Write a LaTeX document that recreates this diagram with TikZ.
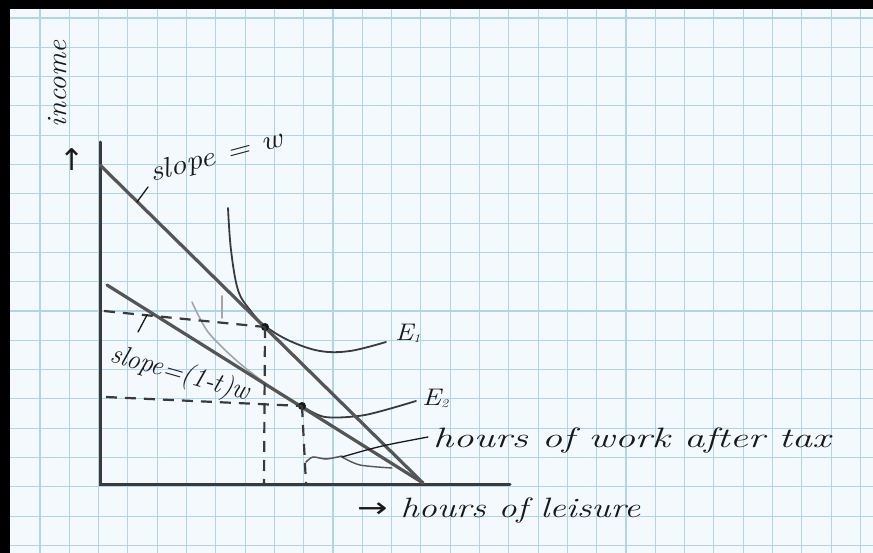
\documentclass[tikz,border=0pt]{standalone}
\usepackage{fontspec}
\usepackage{graphicx}
\newfontfamily\dvsarrows{DejaVu Sans}
\definecolor{paper}{RGB}{243,249,252}
\definecolor{gridc}{RGB}{176,213,233}
\definecolor{pencil}{RGB}{58,58,58}
\definecolor{pencilmid}{RGB}{85,85,85}
\definecolor{pencillight}{RGB}{165,165,165}
\definecolor{ink}{RGB}{25,25,25}
\newcommand\handw[2]{\resizebox{#1}{\height}{#2}}
\begin{document}
\begin{tikzpicture}[x=1pt,y=-1pt,
  gridline/.style={gridc, line width=1.1pt},
  axisline/.style={pencil, line width=3pt, line cap=round},
  budget/.style={pencilmid, line width=3.2pt, line cap=round},
  guide/.style={pencil, line width=2.2pt, dash pattern=on 11pt off 8pt},
  icurve/.style={pencil, line width=1.8pt, line cap=round},
  faintcurve/.style={pencillight, line width=1.6pt, line cap=round},
  leader/.style={ink, line width=1.3pt, line cap=round},
  lab/.style={ink, inner sep=0pt, font=\fontsize{28}{30}\selectfont\itshape},
  elab/.style={ink, inner sep=0pt, font=\fontsize{24}{26}\selectfont\itshape},
  dot/.style={circle, fill=ink, inner sep=0pt, minimum size=8pt}
]
\useasboundingbox (0,0) rectangle (873,553);
% paper
\fill[paper] (0,0) rectangle (873,553);
\foreach \i in {0,...,29} \draw[gridline] ({40+29.3*\i},0) -- ({40+29.3*\i},553);
\foreach \j in {0,...,18} \draw[gridline] (0,{18+29.3*\j}) -- (873,{18+29.3*\j});
\fill[black] (0,0) rectangle (873,9);
\fill[black] (0,0) rectangle (10,553);

% key points
\coordinate (O) at (100,484);
\coordinate (ytop) at (100,142);
\coordinate (xend) at (510,484);
\coordinate (A) at (100,165);
\coordinate (B) at (107,285);
\coordinate (C) at (423,483);
\coordinate (h1) at (104,311);
\coordinate (v1) at (264,484);
\coordinate (h2) at (106,397);
\coordinate (v2) at (306,484);
\coordinate (tw1) at (137,202);
\coordinate (tw2) at (148,187);
\coordinate (tt1) at (138,332);
\coordinate (tt2) at (147,315);
\coordinate (fm1) at (222,296);
\coordinate (fm2) at (222,318);
\coordinate (wk) at (342,457);
\coordinate (wl) at (428,437);

% faint erased mark
\draw[faintcurve] (fm1) -- (fm2);

% indifference curves
\draw[faintcurve] plot[smooth] coordinates {(192,302) (208,332) (237,361) (268,385) (302,406)};
\draw[icurve] plot[smooth, tension=0.6] coordinates {(228,208) (231,250) (238,290) (250,310) (265,326) (290,341) (320,351) (350,351) (386,342)};
\draw[icurve] plot[smooth] coordinates {(302,406) (325,417) (365,415) (416,401)};

% axes and budget lines
\draw[axisline] (ytop) -- (O) -- (xend);
\draw[budget] (A) -- (C);
\draw[budget] (B) -- (C);

% equilibrium points
\node[dot] (e1) at (265,327) {};
\node[dot] (e2) at (302,406) {};

% dashed guides
\draw[guide] (h1) -- (e1.center);
\draw[guide] (e1.center) -- (v1);
\draw[guide] (h2) -- (e2.center);
\draw[guide] (e2.center) -- (v2);

% hours of work scribble
\draw[icurve, pencilmid, line width=1.5pt] plot[smooth] coordinates {(306,462) (313,457) (326,459) (342,456)};
\draw[faintcurve, pencilmid, line width=1.4pt] plot[smooth] coordinates {(342,457) (360,465) (392,468)};
\draw[leader] (wk) .. controls (380,446) .. (wl);

% slope leaders
\draw[leader] (tw1) -- (tw2);
\draw[leader] (tt1) -- (tt2);

% labels
\node[lab, rotate=90, anchor=base] (income) at (66,84) {\handw{87pt}{income}};
\node[ink, inner sep=0pt, font=\fontsize{30}{32}\selectfont\dvsarrows] (uparr) at (72,160) {↑};
\node[lab, rotate=15, anchor=base] (slopew) at (218,164) {\handw{136pt}{slope = w}};
\node[lab, rotate=-16, anchor=base] (slopet) at (178,381) {\handw{143pt}{slope=(1-t)w}};
\node[elab, anchor=base west] (E1lab) at (395,341) {\handw{25pt}{E{\fontsize{12}{12}\selectfont\raisebox{-2pt}{1}}}};
\node[elab, anchor=base west] (E2lab) at (422,405) {\handw{26pt}{E{\fontsize{12}{12}\selectfont\raisebox{-2pt}{2}}}};
\node[lab, anchor=base west] (work) at (433,447) {\handw{397pt}{hours of work after tax}};
\node[lab, anchor=base west] (leisure) at (357,517) {\handw{283pt}{{\dvsarrows →} hours of leisure}};
\end{tikzpicture}
\end{document}
